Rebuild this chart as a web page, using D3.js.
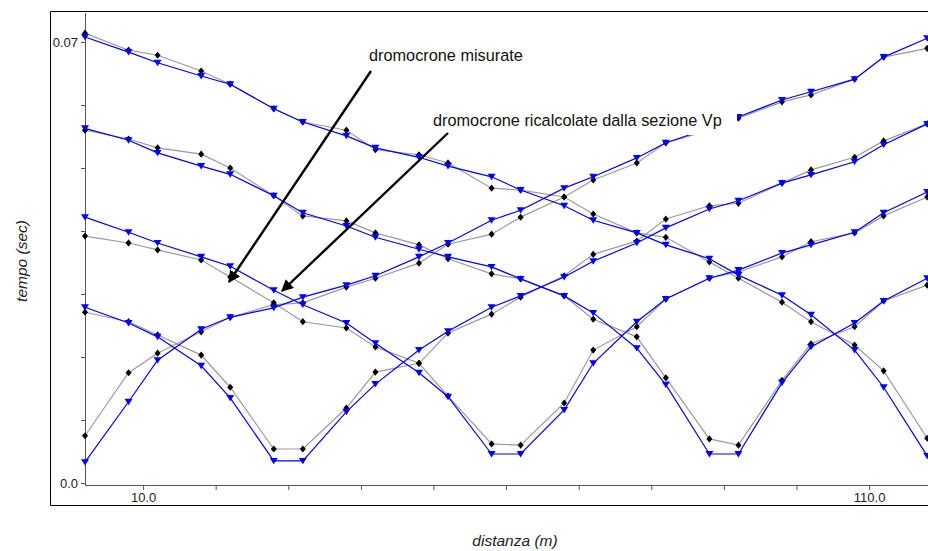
<!DOCTYPE html>
<html>
<head>
<meta charset="utf-8">
<script src="https://cdn.jsdelivr.net/npm/d3@7"></script>
<style>
    body { margin: 0; background: #fff; font-family: Arial, "Liberation Sans", sans-serif; }
    .axis text { font-size: 13px; fill: #222; }
    .axis line, .axis path { stroke: #555; }
    .axis-label { font-size: 15.5px; font-style: italic; fill: #222; }
    .note { font-size: 16.3px; fill: #111; }
</style>
</head>
<body>
<div id="plotArea"></div>
<script>
// posizione geofoni (m)
let distanze = [2, 8, 12, 18, 22, 28, 32, 38, 42, 48, 52, 58, 62, 68, 72, 78, 82, 88, 92, 98, 102, 108, 112, 118];

// tempi misurati / ricalcolati (s) per ogni energizzazione
let shot0Mis  = [0.0075, 0.0175, 0.0206, 0.0240, 0.0263, 0.0283, 0.0286, 0.0311, 0.0325, 0.0349, 0.0379, 0.0395, 0.0422, 0.0454, 0.0481, 0.0508, 0.0540, 0.0560, 0.0579, 0.0605, 0.0616, 0.0641, 0.0676, 0.0690];
let shot0Cal  = [0.0033, 0.0129, 0.0195, 0.0244, 0.0263, 0.0278, 0.0295, 0.0314, 0.0329, 0.0359, 0.0381, 0.0417, 0.0433, 0.0468, 0.0486, 0.0516, 0.0540, 0.0563, 0.0581, 0.0608, 0.0621, 0.0641, 0.0676, 0.0706];
let shot30Mis = [0.0271, 0.0256, 0.0235, 0.0203, 0.0152, 0.0054, 0.0054, 0.0119, 0.0176, 0.0190, 0.0238, 0.0268, 0.0295, 0.0329, 0.0363, 0.0384, 0.0419, 0.0440, 0.0444, 0.0476, 0.0497, 0.0517, 0.0543, 0.0570];
let shot30Cal = [0.0279, 0.0254, 0.0232, 0.0186, 0.0135, 0.0035, 0.0035, 0.0113, 0.0157, 0.0211, 0.0241, 0.0279, 0.0297, 0.0327, 0.0352, 0.0381, 0.0405, 0.0435, 0.0448, 0.0476, 0.0489, 0.0510, 0.0537, 0.0570];
let shot60Mis = [0.0392, 0.0381, 0.0370, 0.0354, 0.0327, 0.0286, 0.0256, 0.0246, 0.0216, 0.0190, 0.0138, 0.0062, 0.0060, 0.0127, 0.0211, 0.0248, 0.0292, 0.0325, 0.0335, 0.0359, 0.0383, 0.0397, 0.0424, 0.0454];
let shot60Cal = [0.0422, 0.0398, 0.0381, 0.0359, 0.0344, 0.0306, 0.0283, 0.0254, 0.0222, 0.0175, 0.0137, 0.0046, 0.0046, 0.0116, 0.0190, 0.0256, 0.0292, 0.0325, 0.0338, 0.0365, 0.0378, 0.0398, 0.0429, 0.0462];
let shot90Mis = [0.0560, 0.0546, 0.0532, 0.0522, 0.0500, 0.0456, 0.0424, 0.0416, 0.0397, 0.0378, 0.0356, 0.0332, 0.0324, 0.0297, 0.0260, 0.0232, 0.0167, 0.0070, 0.0060, 0.0163, 0.0221, 0.0248, 0.0289, 0.0314];
let shot90Cal = [0.0563, 0.0544, 0.0524, 0.0503, 0.0490, 0.0456, 0.0429, 0.0408, 0.0390, 0.0371, 0.0359, 0.0343, 0.0324, 0.0297, 0.0270, 0.0214, 0.0156, 0.0046, 0.0046, 0.0159, 0.0216, 0.0254, 0.0289, 0.0325];
let shot120Mis = [0.0714, 0.0687, 0.0679, 0.0654, 0.0633, 0.0594, 0.0573, 0.0560, 0.0529, 0.0521, 0.0508, 0.0468, 0.0465, 0.0454, 0.0427, 0.0397, 0.0390, 0.0351, 0.0325, 0.0287, 0.0256, 0.0219, 0.0178, 0.0071];
let shot120Cal = [0.0708, 0.0684, 0.0667, 0.0646, 0.0633, 0.0594, 0.0573, 0.0551, 0.0532, 0.0517, 0.0503, 0.0486, 0.0465, 0.0440, 0.0417, 0.0397, 0.0378, 0.0356, 0.0330, 0.0298, 0.0267, 0.0211, 0.0152, 0.0043];

let misurate = [shot0Mis, shot30Mis, shot60Mis, shot90Mis, shot120Mis];
let ricalcolate = [shot0Cal, shot30Cal, shot60Cal, shot90Cal, shot120Cal];

let yTicks = [0, 0.01, 0.02, 0.03, 0.04, 0.05, 0.06, 0.07];
let xTicks = [10, 20, 30, 40, 50, 60, 70, 80, 90, 100, 110];
let yLabels = {0: "0.0", 0.07: "0.07"};
let xLabels = {10: "10.0", 110: "110.0"};

let width = 928, height = 551;
let svg = d3.select("#plotArea").append("svg")
    .attr("width", width)
    .attr("height", height);

// Scales
let xScale = d3.scaleLinear().domain([2, 118]).range([85, 927.2]);
let yScale = d3.scaleLinear().domain([0, 0.07]).range([483, 42]);

// cornice esterna
svg.append("path")
    .attr("d", "M935,11.5 H50.5 V505.5 H935")
    .attr("fill", "none")
    .attr("stroke", "#000");

// Axes
let xAxis = d3.axisBottom(xScale)
    .tickValues(xTicks)
    .tickSize(5)
    .tickSizeOuter(0)
    .tickFormat(d => xLabels[d] || "");
svg.append("g")
    .attr("class", "axis")
    .attr("transform", "translate(0,485)")
    .call(xAxis)
    .select(".domain").remove();

let yAxis = d3.axisLeft(yScale)
    .tickValues(yTicks)
    .tickSize(4)
    .tickSizeOuter(0)
    .tickFormat(d => yLabels[d] || "");
svg.append("g")
    .attr("class", "axis")
    .attr("transform", "translate(85,0)")
    .call(yAxis)
    .select(".domain").remove();

svg.append("line")
    .attr("x1", 85.5).attr("x2", 85.5).attr("y1", 13).attr("y2", 485.5)
    .attr("stroke", "#555");
svg.append("line")
    .attr("x1", 85).attr("x2", 930).attr("y1", 485.5).attr("y2", 485.5)
    .attr("stroke", "#555");

// Axis Labels
svg.append("text")
    .attr("class", "axis-label")
    .attr("text-anchor", "middle")
    .attr("transform", "translate(27,261) rotate(-90)")
    .text("tempo (sec)");
svg.append("text")
    .attr("class", "axis-label")
    .attr("text-anchor", "middle")
    .attr("x", 515)
    .attr("y", 546)
    .text("distanza (m)");

// Lines
let line = d3.line()
    .x((d, i) => xScale(distanze[i]))
    .y(d => yScale(d));

let diamond = "M0,-3.6L3,0L0,3.6L-3,0Z";
let triangle = "M-4,-3L4,-3L0,3.4Z";

misurate.forEach(serie => {
    svg.append("path")
        .datum(serie)
        .attr("fill", "none")
        .attr("stroke", "#9a9a9a")
        .attr("stroke-width", 1.2)
        .attr("d", line);
});
misurate.forEach(serie => {
    svg.selectAll(null)
        .data(serie)
        .enter().append("path")
        .attr("d", diamond)
        .attr("fill", "#000")
        .attr("transform", (d, i) => "translate(" + xScale(distanze[i]) + "," + yScale(d) + ")");
});
ricalcolate.forEach(serie => {
    svg.append("path")
        .datum(serie)
        .attr("fill", "none")
        .attr("stroke", "#0000ff")
        .attr("stroke-width", 1.2)
        .attr("d", line);
    svg.selectAll(null)
        .data(serie)
        .enter().append("path")
        .attr("d", triangle)
        .attr("fill", "#0000ff")
        .attr("transform", (d, i) => "translate(" + xScale(distanze[i]) + "," + yScale(d) + ")");
});

// Annotations
svg.append("defs").append("marker")
    .attr("id", "freccia")
    .attr("viewBox", "0 0 10 10")
    .attr("refX", 9).attr("refY", 5)
    .attr("markerWidth", 5).attr("markerHeight", 5)
    .attr("markerUnits", "strokeWidth")
    .attr("orient", "auto")
    .append("path")
    .attr("d", "M0,0L10,5L0,10Z")
    .attr("fill", "#000");

svg.append("rect").attr("x", 342).attr("y", 12).attr("width", 208).attr("height", 58).attr("fill", "#fff");
svg.append("rect").attr("x", 417).attr("y", 102).attr("width", 320).attr("height", 33).attr("fill", "#fff");

svg.append("text").attr("class", "note").attr("x", 369).attr("y", 61).text("dromocrone misurate");
svg.append("text").attr("class", "note").attr("x", 433).attr("y", 126).text("dromocrone ricalcolate dalla sezione Vp");

svg.append("line")
    .attr("x1", 371).attr("y1", 71).attr("x2", 229).attr("y2", 282)
    .attr("stroke", "#000").attr("stroke-width", 2.4)
    .attr("marker-end", "url(#freccia)");
svg.append("line")
    .attr("x1", 448).attr("y1", 133).attr("x2", 282).attr("y2", 291)
    .attr("stroke", "#000").attr("stroke-width", 2.4)
    .attr("marker-end", "url(#freccia)");
</script>
</body>
</html>
